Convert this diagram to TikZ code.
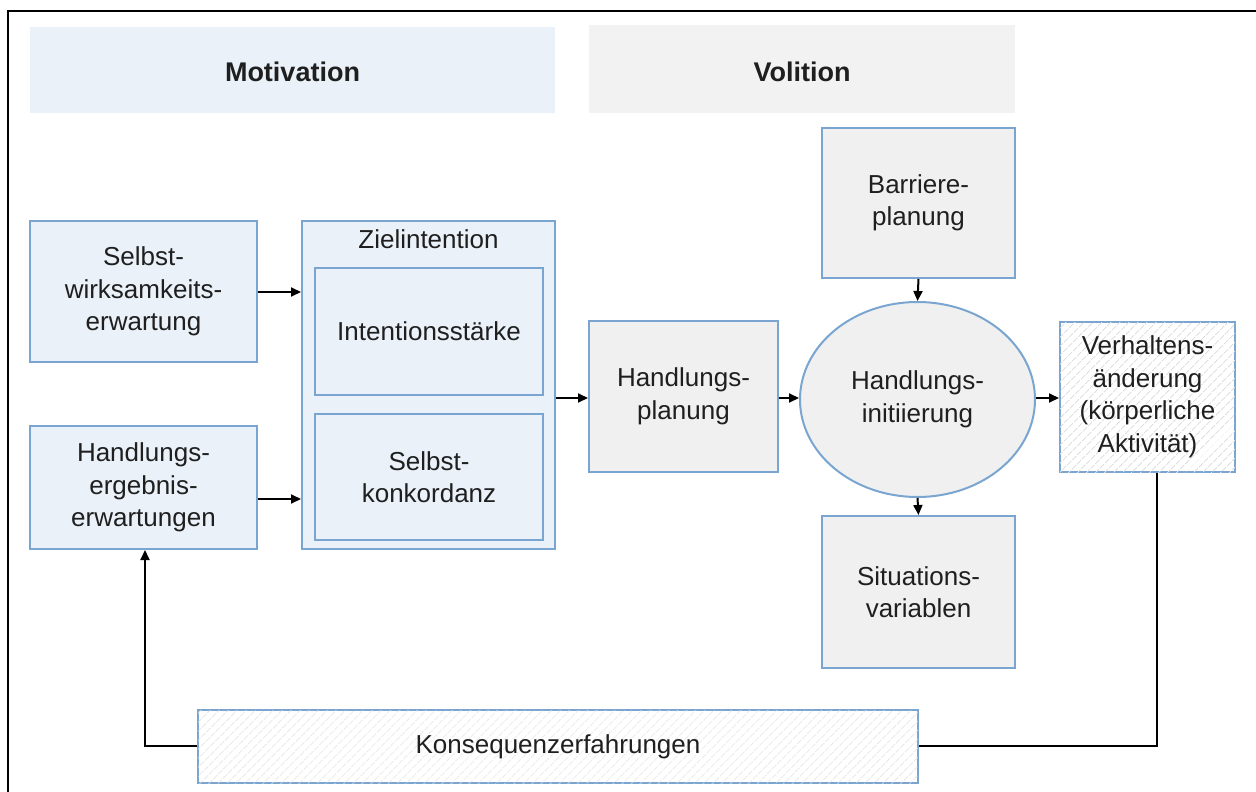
\documentclass[tikz,border=0pt]{standalone}
\usepackage{fontspec}
\setmainfont{Liberation Sans}
\usetikzlibrary{arrows.meta,patterns.meta,shapes.geometric}
\definecolor{bordblue}{RGB}{122,165,208}
\definecolor{fillblue}{RGB}{234,241,249}
\definecolor{fillgray}{RGB}{240,240,240}
\definecolor{headblue}{RGB}{235,241,248}
\definecolor{headgray}{RGB}{242,242,242}
\definecolor{hatchgray}{RGB}{222,222,222}
\tikzset{
  txt/.style={font=\fontsize{26}{32.5}\selectfont, align=center, text=black!88},
  boxbase/.style={draw=bordblue, line width=2pt, txt, inner sep=0pt},
  bluebox/.style={boxbase, fill=fillblue},
  graybox/.style={boxbase, fill=fillgray},
  hatchbox/.style={boxbase, fill=white, postaction={pattern={Lines[angle=45,distance=6.5pt,line width=0.8pt]}, pattern color=hatchgray}},
  header/.style={txt, font=\fontsize{27}{30}\selectfont\bfseries, inner sep=0pt},
  arr/.style={line width=2pt, -{Triangle[length=10pt,width=9pt]}},
  ln/.style={line width=2pt}
}
\begin{document}
\begin{tikzpicture}[x=1pt,y=-1pt]
\useasboundingbox (0,0) rectangle (1256,792);
\draw[line width=2.5pt] (8,792) -- (8,11) -- (1256,11);
% headers
\fill[headblue] (30,27) rectangle (555,113);
\fill[headgray] (589,25) rectangle (1015,113);
\node[header] (mot) at (292.5,72) {Motivation};
\node[header] (vol) at (802,72) {Volition};
% boxes
\node[bluebox, minimum width=227pt, minimum height=141pt] (sw) at (143.5,291.5) {Selbst-\\wirksamkeits-\\erwartung};
\node[bluebox, minimum width=227pt, minimum height=123pt] (he) at (143.5,487.5) {Handlungs-\\ergebnis-\\erwartungen};
\node[bluebox, minimum width=253pt, minimum height=328pt] (zi) at (428.5,385) {};
\node[txt, anchor=north] (zil) at (428.5,226) {Zielintention};
\node[bluebox, minimum width=228pt, minimum height=127pt] (is) at (429,331.5) {Intentionsstärke};
\node[bluebox, minimum width=228pt, minimum height=126pt] (sk) at (429,477) {Selbst-\\konkordanz};
\node[graybox, minimum width=189pt, minimum height=151pt] (hp) at (683.5,396.5) {Handlungs-\\planung};
\node[graybox, minimum width=193pt, minimum height=150pt] (bp) at (918.5,203) {Barriere-\\planung};
\node[graybox, ellipse, minimum width=235pt, minimum height=195pt] (hi) at (917.5,399.5) {Handlungs-\\initiierung};
\node[graybox, minimum width=193pt, minimum height=152pt] (sv) at (918.5,592) {Situations-\\variablen};
\node[hatchbox, minimum width=175pt, minimum height=150pt] (va) at (1147.5,397) {Verhaltens-\\änderung\\(körperliche\\Aktivität)};
\node[hatchbox, minimum width=720pt, minimum height=73pt] (ke) at (558,746.5) {Konsequenzerfahrungen};
% arrows
\draw[arr] (sw.east |- 0,292) -- (zi.west |- 0,292);
\draw[arr] (he.east |- 0,499) -- (zi.west |- 0,499);
\draw[arr] (zi.east |- 0,398) -- (hp.west |- 0,398);
\draw[arr] (hp.east |- 0,398) -- (hi.west |- 0,398);
\draw[arr] (hi.east |- 0,398) -- (va.west |- 0,398);
\draw[arr] (bp.south) -- (hi.north);
\draw[arr] (hi.south) -- (sv.north);
\coordinate (c1) at (1157,746);
\coordinate (c2) at (145,746);
\draw[ln] (va.south -| c1) -- (c1) -- (ke.east |- c1);
\draw[arr] (ke.west |- c2) -- (c2) -- (he.south -| c2);
\end{tikzpicture}
\end{document}
